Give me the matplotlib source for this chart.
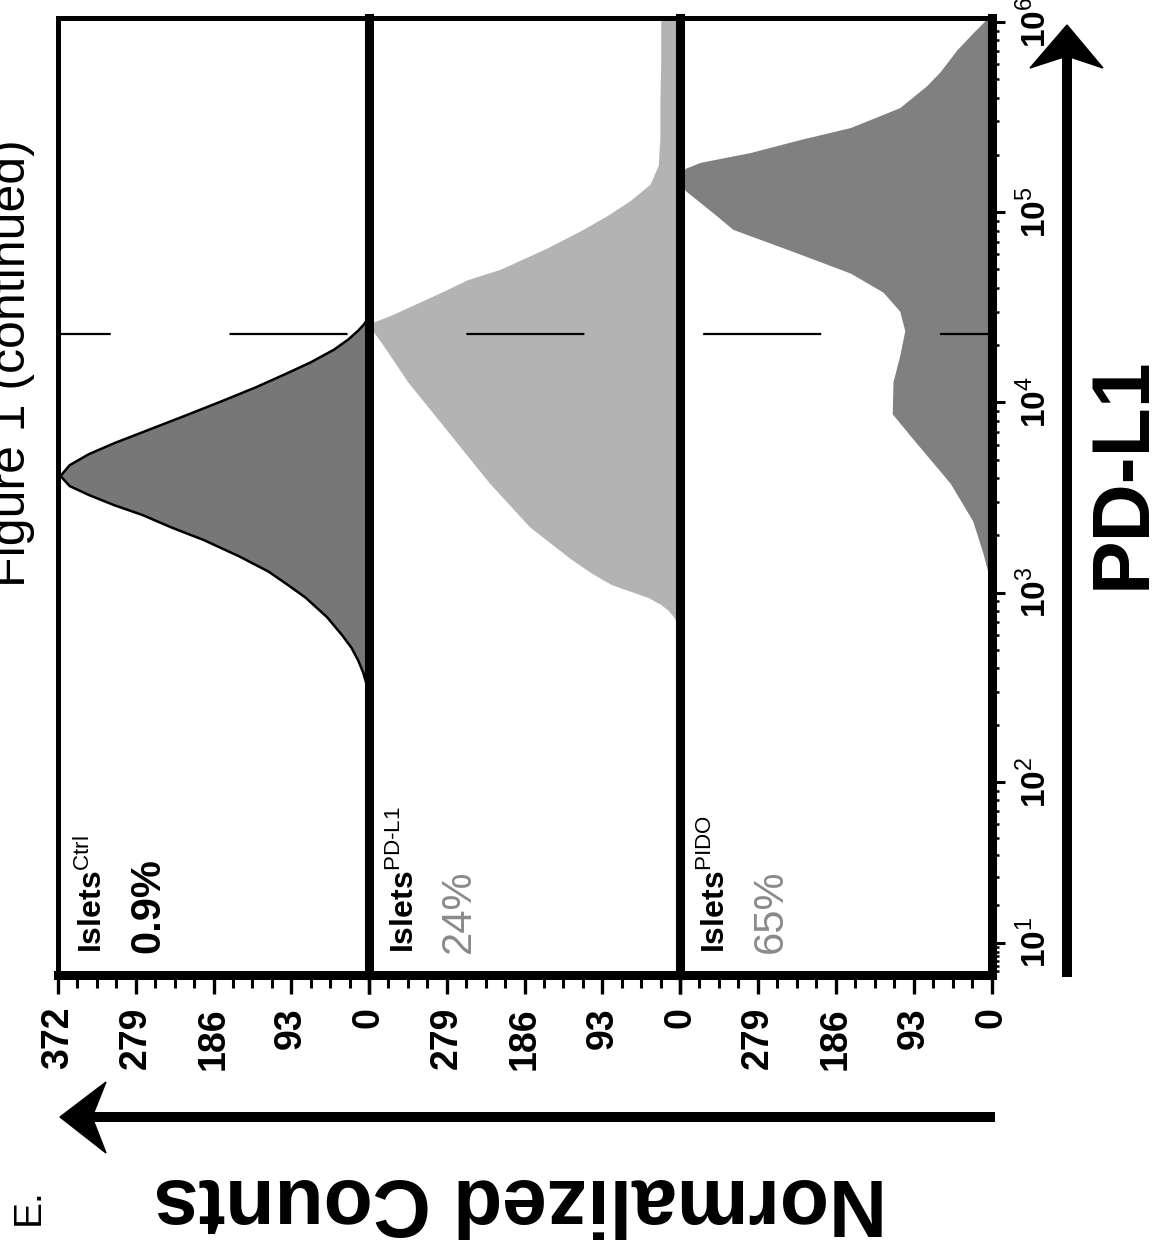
import matplotlib
matplotlib.use("Agg")
import matplotlib.pyplot as plt
import matplotlib.transforms as mtransforms
from matplotlib.lines import Line2D
from matplotlib.patches import Polygon
from matplotlib.ticker import FixedLocator

plt.rcParams["font.family"] = ["Liberation Sans", "DejaVu Sans"]
plt.rcParams["mathtext.fontset"] = "custom"
plt.rcParams["mathtext.rm"] = "Liberation Sans"
plt.rcParams["mathtext.bf"] = "Liberation Sans:bold"
plt.rcParams["lines.scale_dashes"] = False

# PD-L1 intensity (log10) and normalized counts for each islet sample
ctrl_log = [2.40, 2.47, 2.52, 2.58, 2.644, 2.71, 2.775, 2.87, 2.974, 3.04,
            3.11, 3.19, 3.277, 3.34, 3.408, 3.46, 3.513, 3.56, 3.613, 3.67,
            3.728, 3.785, 3.843, 3.93, 4.01, 4.08, 4.147, 4.21, 4.277, 4.33,
            4.377, 4.41, 4.43, 4.47, 4.50]
ctrl_cnt = [0, 1, 3, 7, 13, 21, 32, 50, 76, 97,
            120, 155, 198, 235, 271, 305, 335, 358, 369, 358,
            335, 305, 271, 220, 174, 135, 101, 70, 42, 25,
            13, 6, 3, 1, 0]

pdl1_log = [2.78, 2.82, 2.87, 2.91, 2.94, 2.974, 3.00, 3.042, 3.10, 3.178,
            3.346, 3.576, 3.843, 4.11, 4.30, 4.38, 4.42, 4.46, 4.52, 4.58,
            4.644, 4.70, 4.81, 4.90, 4.98, 5.06, 5.147, 5.246, 5.40, 5.60,
            5.80, 6.03]
pdl1_cnt = [0, 2, 7, 15, 24, 38, 55, 82, 105, 131,
            180, 228, 277, 326, 355, 368, 368, 345, 315, 285,
            255, 215, 160, 120, 88, 60, 36, 26, 24, 24,
            23, 23]

pido_log = [2.95, 3.11, 3.21, 3.377, 3.576, 3.78, 3.94, 4.11, 4.246, 4.377,
            4.48, 4.58, 4.68, 4.78, 4.91, 4.98, 5.115, 5.17, 5.23, 5.262,
            5.314, 5.382, 5.445, 5.55, 5.665, 5.738, 5.853, 5.942, 5.995, 6.03]
pido_cnt = [0, 5, 11, 23, 50, 89, 119, 118, 110, 104,
            110, 130, 169, 229, 309, 328, 366, 370, 366, 348,
            288, 229, 169, 110, 78, 62, 42, 23, 11, 4]

samples = ["Ctrl", "PD-L1", "PIDO"]
percents = ["0.9%", "24%", "65%"]
fill_colors = ["#777777", "#b3b3b3", "#808080"]
pct_colors = ["black", "#8a8a8a", "#8a8a8a"]
series_log = [ctrl_log, pdl1_log, pido_log]
series_cnt = [ctrl_cnt, pdl1_cnt, pido_cnt]

count_ticks = [372, 279, 186, 93, 0]
decades = [1, 2, 3, 4, 5, 6]
gate_value = 2.3e4

W, H = 1160, 1240


def fx(px):
    return px / W


def fy(py):
    return 1 - py / H


fig = plt.figure(figsize=(W / 100, H / 100), dpi=100)

edges = [58, 369, 680, 992]
top_px, bot_px = 18, 975
axes = []
for i in range(3):
    ax = fig.add_axes([fx(edges[i]), fy(bot_px),
                       (edges[i + 1] - edges[i]) / W, (bot_px - top_px) / H])
    ax.set_yscale("asinh", linear_width=16)
    ax.set_ylim(3.2, 1.05e6)
    ax.set_xlim(372, 0)

    pd = [10 ** v for v in series_log[i]]
    ax.fill_betweenx(pd, series_cnt[i], 0, color=fill_colors[i], lw=0, zorder=1)
    if i == 0:
        ax.plot(series_cnt[i], pd, color="black", lw=1.8, zorder=2)

    # counts axis along the bottom
    ax.xaxis.set_major_locator(FixedLocator(count_ticks))
    ax.xaxis.set_minor_locator(FixedLocator(
        [c + k * 23.25 for c in count_ticks[1:] for k in (1, 2, 3)]))
    labels = [str(c) for c in count_ticks]
    if i > 0:
        labels[0] = ""
    ax.set_xticklabels(labels, rotation=90, fontsize=27, fontweight="bold")
    ax.tick_params(axis="x", which="major", length=14, width=2.4, pad=9,
                   direction="out")
    ax.tick_params(axis="x", which="minor", length=9, width=2.2, direction="out")

    for side in ("right", "bottom"):
        ax.spines[side].set_linewidth(6.5)
    ax.spines["top"].set_linewidth(3.6)
    ax.spines["left"].set_linewidth(3.6 if i == 0 else 6.5)
    for sp in ax.spines.values():
        sp.set_capstyle("projecting")

    if i < 2:
        ax.tick_params(axis="y", which="both", left=False, right=False,
                       labelleft=False, labelright=False)
    else:
        ax.yaxis.tick_right()
        ax.yaxis.set_major_locator(FixedLocator([10 ** d for d in decades]))
        ax.yaxis.set_minor_locator(FixedLocator(
            [k * 10 ** d for d in range(0, 6) for k in range(2, 10)]))
        ax.set_yticklabels([r"$\mathbf{10}^{%d}$" % d for d in decades],
                           rotation=90, va="center", fontsize=24)
        ax.tick_params(axis="y", which="major", length=9.5, width=2.2, pad=9)
        ax.tick_params(axis="y", which="minor", length=5, width=1.8)

    ax.text(0.112, 0.023, r"$\mathbf{Islets}^{\text{%s}}$" % samples[i],
            transform=ax.transAxes, rotation=90, ha="center", va="bottom",
            fontsize=23)
    ax.text(0.29, 0.023, percents[i], transform=ax.transAxes, rotation=90,
            ha="center", va="bottom", fontsize=30, color=pct_colors[i],
            fontweight="bold" if i == 0 else "normal")
    axes.append(ax)

# gate marker running across all three panels
gate_tr = mtransforms.blended_transform_factory(fig.transFigure, axes[0].transData)
fig.add_artist(Line2D([fx(edges[0]), fx(edges[-1] - 4)], [gate_value, gate_value],
                      transform=gate_tr, color="black", lw=1.6,
                      linestyle=(47, (85, 85.5)), zorder=5))

# axis arrows
fig.add_artist(Line2D([fx(995), fx(92)], [fy(1117), fy(1117)], color="black",
                      lw=7.2, solid_capstyle="butt"))
fig.add_artist(Polygon([[fx(60), fy(1117)], [fx(106), fy(1082)],
                        [fx(92), fy(1117)], [fx(106), fy(1153)]],
                       closed=True, color="black", transform=fig.transFigure))
fig.add_artist(Line2D([fx(1067), fx(1067)], [fy(977), fy(56)], color="black",
                      lw=7.2, solid_capstyle="butt"))
fig.add_artist(Polygon([[fx(1067), fy(25)], [fx(1103), fy(68)],
                        [fx(1067), fy(56)], [fx(1030), fy(68)]],
                       closed=True, color="black", transform=fig.transFigure))

fig.text(fx(520), fy(1200), "Normalized Counts", rotation=180, ha="center",
         va="center", fontsize=58, fontweight="bold")
fig.text(fx(1124), fy(473), "PD-L1", rotation=90, ha="center", va="center",
         fontsize=58, fontweight="bold")
fig.text(fx(29), fy(1207), "E.", rotation=90, ha="center", va="center",
         fontsize=28)
fig.text(fx(12), fy(363), "Figure 1 (continued)", rotation=90, ha="center",
         va="center", fontsize=36)

fig.savefig("out.png", dpi=100)
